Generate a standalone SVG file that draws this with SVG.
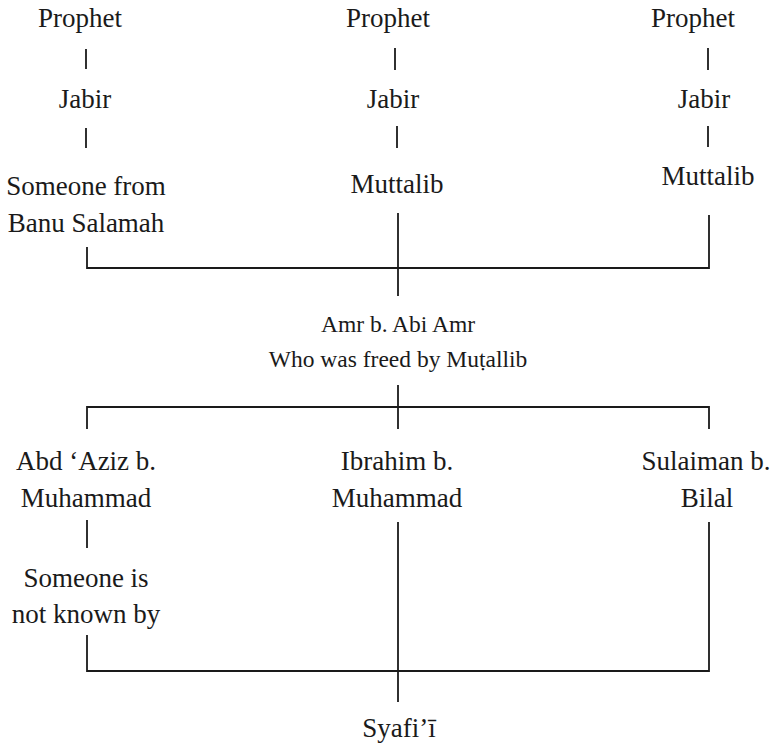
<svg xmlns="http://www.w3.org/2000/svg" width="771" height="745" viewBox="0 0 771 745">
<style>
text{font-family:"Liberation Serif","Times New Roman",serif;font-size:27px;fill:#1a1a1a;text-anchor:middle}
.s{font-size:23.5px}
.c line,.c polyline{stroke:#1a1a1a;stroke-width:1.8;fill:none}
</style>
<rect width="771" height="745" fill="#fff"/>
<g class="c" id="connectors">
<line x1="86" y1="49" x2="86" y2="69"/>
<line x1="86" y1="128" x2="86" y2="148"/>
<line x1="395" y1="48" x2="395" y2="70"/>
<line x1="397" y1="126" x2="397" y2="148"/>
<line x1="708" y1="48" x2="708" y2="70"/>
<line x1="708" y1="126" x2="708" y2="147"/>
<polyline points="87,247 87,268 709,268 709,215"/>
<line x1="398" y1="213" x2="398" y2="296"/>
<line x1="398" y1="385" x2="398" y2="407"/>
<polyline points="87,429 87,407 709,407 709,429"/>
<line x1="398" y1="407" x2="398" y2="429"/>
<line x1="87" y1="520" x2="87" y2="548"/>
<polyline points="87,635 87,671 709,671 709,522"/>
<line x1="398" y1="522" x2="398" y2="702"/>
</g>
<g id="n-prophet1"><text x="80" y="27">Prophet</text></g>
<g id="n-jabir1"><text x="85" y="108">Jabir</text></g>
<g id="n-banusalamah"><text x="86" y="195">Someone from</text><text x="86" y="232">Banu Salamah</text></g>
<g id="n-prophet2"><text x="388" y="27">Prophet</text></g>
<g id="n-jabir2"><text x="393" y="108">Jabir</text></g>
<g id="n-muttalib2"><text x="397" y="193">Muttalib</text></g>
<g id="n-prophet3"><text x="693" y="27">Prophet</text></g>
<g id="n-jabir3"><text x="704" y="108">Jabir</text></g>
<g id="n-muttalib3"><text x="708" y="185">Muttalib</text></g>
<g id="n-amr"><text class="s" x="398" y="332">Amr b. Abi Amr</text><text class="s" x="398" y="367">Who was freed by Muṭallib</text></g>
<g id="n-abdaziz"><text x="86" y="470">Abd ‘Aziz b.</text><text x="86" y="507">Muhammad</text></g>
<g id="n-ibrahim"><text x="397" y="470">Ibrahim b.</text><text x="397" y="507">Muhammad</text></g>
<g id="n-sulaiman"><text x="706" y="470">Sulaiman b.</text><text x="707" y="507">Bilal</text></g>
<g id="n-someone"><text x="86" y="587">Someone is</text><text x="86" y="623">not known by</text></g>
<g id="n-syafii"><text x="399" y="737">Syafi’ī</text></g>
</svg>
